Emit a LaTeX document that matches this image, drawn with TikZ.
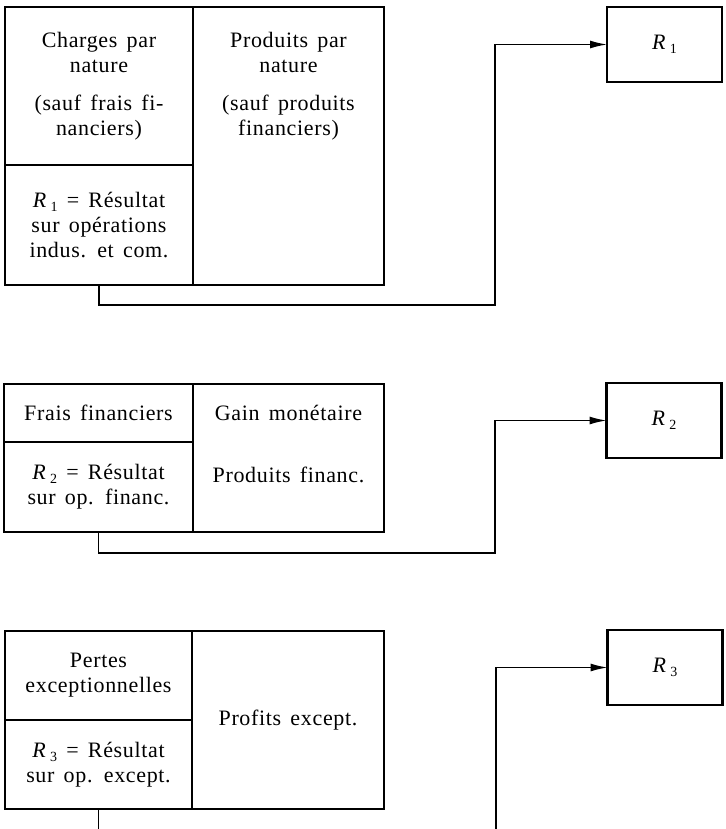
\documentclass[tikz,border=0pt]{standalone}
\usepackage{fontspec}
\setmainfont{Liberation Serif}[LetterSpace=3, WordSpace=1.5]
\usetikzlibrary{positioning}
\usetikzlibrary{arrows.meta}
\newcommand{\Rn}[1]{\textit{R}\,\raisebox{-0.4ex}{\fontsize{14}{14}\selectfont #1}}
\tikzset{cellbox/.style={draw, line width=2.3pt, outer sep=0pt, inner sep=0pt, align=center, anchor=north west}}
\tikzset{rbox/.style={draw, line width=2.3pt, outer sep=0pt, minimum width=115pt, minimum height=75pt}}
\tikzset{flow/.style={line width=1.4pt, -{Latex[length=17pt,width=8pt]}}}
\tikzset{txt/.style={align=center}}

\begin{document}
\begin{tikzpicture}[x=1pt, y=-1pt, font=\fontsize{22}{25}\selectfont]

\useasboundingbox (0,0) rectangle (725,829);

\node[cellbox, minimum width=188pt, minimum height=158pt] (chg1) at (5,7) {Charges par\\nature\\[13pt](sauf frais fi-\\nanciers)};
\node[cellbox, minimum width=188pt, minimum height=120pt] (res1) at (5,165) {\Rn{1} = Résultat\\sur opérations\\indus. et com.};
\node[cellbox, minimum width=191pt, minimum height=278pt] (prd1) at (193,7) {};
\node[txt] (prd1t) at (prd1.center |- chg1.center) {Produits par\\nature\\[13pt](sauf produits\\financiers)};

\node[cellbox, minimum width=189pt, minimum height=58pt] (frais2) at (4,384) {Frais financiers};
\node[cellbox, minimum width=189pt, minimum height=90pt] (res2) at (4,442) {\Rn{2} = Résultat\\sur op. financ.};
\node[cellbox, minimum width=191pt, minimum height=148pt] (prd2) at (193,384) {};
\node[txt] (gain2) at (prd2.center |- frais2.center) {Gain monétaire};
\node[txt, yshift=12pt] (fin2) at (prd2.center |- res2.center) {Produits financ.};

\node[cellbox, minimum width=187pt, minimum height=89pt] (pert3) at (5,631) {Pertes\\exceptionnelles};
\node[cellbox, minimum width=187pt, minimum height=89pt] (res3) at (5,720) {\Rn{3} = Résultat\\sur op. except.};
\node[cellbox, minimum width=192pt, minimum height=178pt] (prf3) at (192,631) {Profits except.};

\node[rbox] (r1) at (664.5,44.5) {\Rn{1}};
\node[rbox] (r2) at (664,420.5) {\Rn{2}};
\node[rbox] (r3) at (665,667.5) {\Rn{3}};

\coordinate (k1) at (495,305);
\coordinate (k2) at (495,553);
\coordinate (e3) at (res3.south |- 0,829);
\coordinate (s3) at (496,829);

\draw[flow] (res1.south) |- (k1) |- (r1.west);
\draw[flow] (res2.south) |- (k2) |- (r2.west);
\draw[line width=1.4pt] (res3.south) -- (e3);
\draw[flow] (s3) |- (r3.west);

\end{tikzpicture}
\end{document}
